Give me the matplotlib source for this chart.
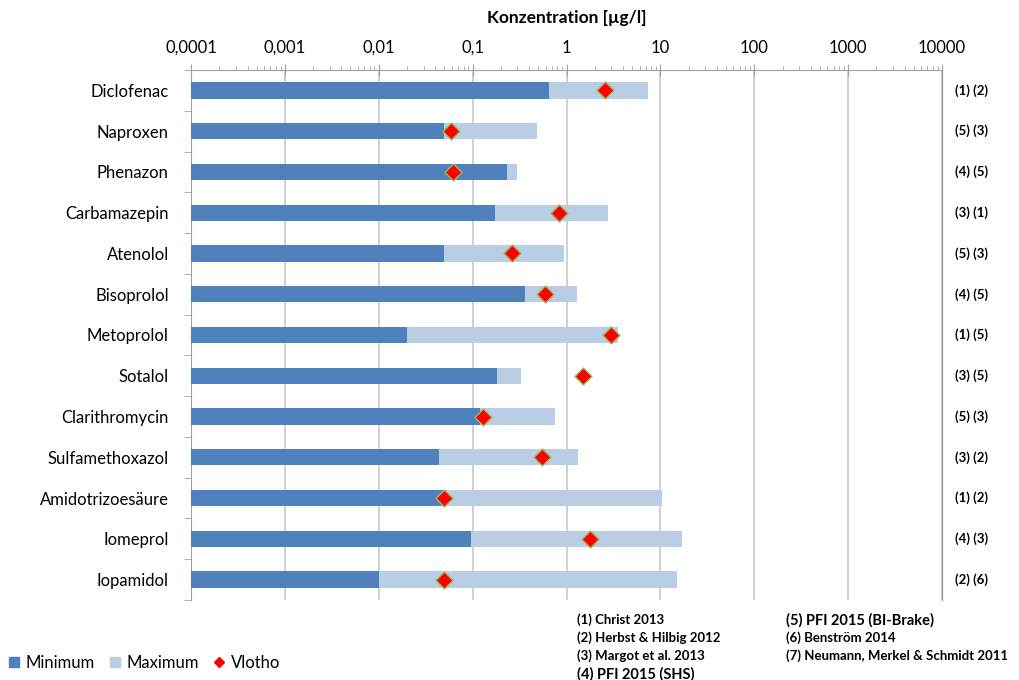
import numpy as np
import matplotlib
matplotlib.use('Agg')
import matplotlib.pyplot as plt
from matplotlib.ticker import FixedLocator, LogLocator, NullFormatter
from matplotlib.lines import Line2D
from matplotlib.patches import Patch

plt.rcParams['font.family'] = ['Lato', 'DejaVu Sans']

stoffe = ['Diclofenac', 'Naproxen', 'Phenazon', 'Carbamazepin', 'Atenolol',
          'Bisoprolol', 'Metoprolol', 'Sotalol', 'Clarithromycin',
          'Sulfamethoxazol', 'Amidotrizoesäure', 'Iomeprol', 'Iopamidol']
minimum = [0.65, 0.05, 0.233, 0.172, 0.05, 0.36, 0.02, 0.18, 0.12, 0.044, 0.049, 0.096, 0.01]
maximum = [7.4, 0.49, 0.30, 2.8, 0.95, 1.3, 3.5, 0.33, 0.75, 1.33, 10.4, 16.8, 14.9]
vlotho = [2.57, 0.059, 0.062, 0.84, 0.26, 0.59, 3.0, 1.49, 0.13, 0.55, 0.05, 1.78, 0.05]
quellen = ['(1) (2)', '(5) (3)', '(4) (5)', '(3) (1)', '(5) (3)', '(4) (5)', '(1) (5)',
           '(3) (5)', '(5) (3)', '(3) (2)', '(1) (2)', '(4) (3)', '(2) (6)']
ticks = [0.0001, 0.001, 0.01, 0.1, 1, 10, 100, 1000, 10000]
tick_labels = ['0,0001', '0,001', '0,01', '0,1', '1', '10', '100', '1000', '10000']
refs_links = ['(1) Christ 2013', '(2) Herbst & Hilbig 2012', '(3) Margot et al. 2013', '(4) PFI 2015 (SHS)']
refs_rechts = ['(5) PFI 2015 (BI-Brake)', '(6) Benström 2014', '(7) Neumann, Merkel & Schmidt 2011']

c_min = '#4F81BD'
c_max = '#B9CDE5'

fig = plt.figure(figsize=(10.2, 6.8), dpi=100)
ax = fig.add_axes([191 / 1020, 1 - 600 / 680, 751 / 1020, 530 / 680])

y = np.arange(len(stoffe))
x0 = 0.0001
ax.set_xscale('log')
ax.barh(y, np.array(maximum) - x0, left=x0, height=0.4, color=c_max, zorder=2)
ax.barh(y, np.array(minimum) - x0, left=x0, height=0.4, color=c_min, zorder=3)
ax.scatter(vlotho, y, marker='D', s=75, color='red', edgecolors='#9BBB59',
           linewidths=1.0, zorder=4)

ax.set_xlim(0.0001, 10000)
ax.set_ylim(len(stoffe) - 0.5, -0.5)
ax.xaxis.tick_top()
ax.xaxis.set_major_locator(FixedLocator(ticks))
ax.set_xticklabels(tick_labels, fontsize=12)
ax.xaxis.set_minor_locator(LogLocator(base=10, subs=np.arange(2, 10), numticks=20))
ax.xaxis.set_minor_formatter(NullFormatter())
ax.tick_params(axis='x', which='major', direction='inout', length=8, color='#A0A0A0', pad=6)
ax.tick_params(axis='x', which='minor', direction='out', length=3, color='#A0A0A0')
ax.grid(axis='x', which='major', color='#C8C8C8', linewidth=1.2, zorder=0)
ax.set_axisbelow(True)

ax.set_yticks(y)
ax.set_yticklabels(stoffe, fontsize=12)
ax.set_yticks(np.arange(len(stoffe) + 1) - 0.5, minor=True)
ax.tick_params(axis='y', which='major', length=0, pad=16)
ax.tick_params(axis='y', which='minor', length=5, color='#A0A0A0')

ax.spines['bottom'].set_visible(False)
for s in ['top', 'left']:
    ax.spines[s].set_color('#A0A0A0')
ax.spines['right'].set_color('#909090')

ax.set_title('Konzentration [µg/l]', fontsize=12.5, fontweight='bold', pad=12)

for i, q in enumerate(quellen):
    ax.text(1.017, i, q, transform=ax.get_yaxis_transform(), fontsize=9.5,
            fontweight='bold', va='center', ha='left')

for i, r in enumerate(refs_links):
    fig.text(577 / 1020, 1 - (620 + i * 18) / 680, r, fontsize=9.5 if i < 3 else 10.5,
             fontweight='bold', va='center', ha='left')
for i, r in enumerate(refs_rechts):
    fig.text(786 / 1020, 1 - (620 + i * 18) / 680, r, fontsize=10.5 if i == 0 else 9.5,
             fontweight='bold', va='center', ha='left')

handles = [Patch(color=c_min, label='Minimum'),
           Patch(color=c_max, label='Maximum'),
           Line2D([], [], marker='D', color='red', linestyle='none', markersize=5, label='Vlotho')]
fig.legend(handles=handles, loc='center left', bbox_to_anchor=(-0.006, 1 - 663 / 680), ncol=3,
           frameon=False, fontsize=12, handlelength=0.6, handleheight=0.6,
           handletextpad=0.4, columnspacing=0.9)

fig.savefig('out.png', dpi=100)
